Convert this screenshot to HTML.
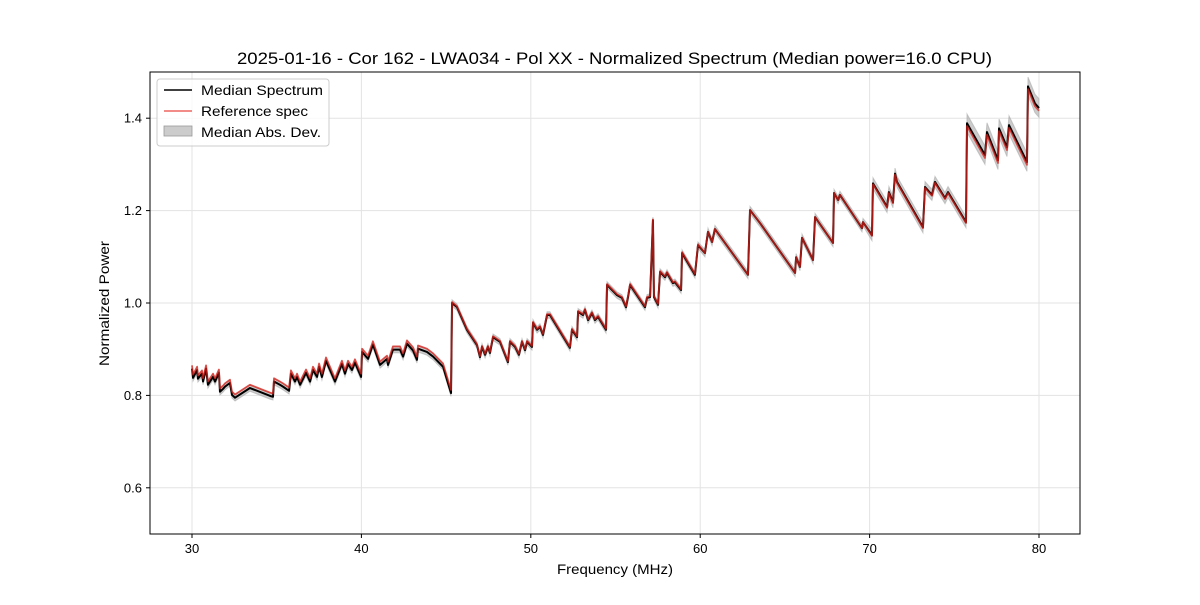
<!DOCTYPE html>
<html><head><meta charset="utf-8"><style>
body{margin:0;background:#fff;}
svg{font-family:"Liberation Sans","DejaVu Sans",sans-serif;}
</style></head><body>
<svg id="chart" width="1200" height="600" viewBox="0 0 1200 600">
<rect x="0" y="0" width="1200" height="600" fill="#fff"/>
<text x="237" y="64" font-size="17" textLength="755" lengthAdjust="spacingAndGlyphs">2025-01-16 - Cor 162 - LWA034 - Pol XX - Normalized Spectrum (Median power=16.0 CPU)</text>
<g id="grid"></g>
<g id="band"></g>
<g id="lines"></g>
<rect x="150" y="72" width="930" height="462" fill="none" stroke="#000" stroke-width="1"/>
<g id="ticks"></g>
<text x="557" y="574" font-size="14" textLength="116" lengthAdjust="spacingAndGlyphs">Frequency (MHz)</text>
<text x="0" y="0" font-size="14" textLength="125" lengthAdjust="spacingAndGlyphs" transform="translate(109 366) rotate(-90)">Normalized Power</text>
<g>
<rect x="157" y="79" width="172" height="67" rx="3" fill="#fff" fill-opacity="0.8" stroke="#ccc"/>
<line x1="164" y1="90" x2="192" y2="90" stroke="#000" stroke-width="1.5"/>
<text x="201" y="95" font-size="14" textLength="122" lengthAdjust="spacingAndGlyphs">Median Spectrum</text>
<line x1="164" y1="111" x2="192" y2="111" stroke="#e8403a" stroke-opacity="0.8" stroke-width="1.5"/>
<text x="201" y="116" font-size="14" textLength="107" lengthAdjust="spacingAndGlyphs">Reference spec</text>
<rect x="164" y="126" width="28" height="10" fill="#bbb" fill-opacity="0.75" stroke="#999" stroke-width="0.8"/>
<text x="201" y="137" font-size="14" textLength="120" lengthAdjust="spacingAndGlyphs">Median Abs. Dev.</text>
</g>
</svg>
<script>
const freqs=[30.00,30.06,30.30,30.35,30.59,30.65,30.83,30.94,31.24,31.36,31.59,31.65,31.83,31.95,32.24,32.36,32.54,33.42,34.60,34.78,34.84,35.19,35.37,35.73,35.84,36.08,36.20,36.38,36.73,36.97,37.14,37.38,37.50,37.67,37.91,38.44,38.85,39.03,39.21,39.44,39.62,39.98,40.04,40.39,40.68,41.10,41.51,41.57,41.86,42.28,42.46,42.69,43.05,43.28,43.34,43.87,44.23,44.82,45.29,45.35,45.64,46.23,46.82,47.00,47.12,47.30,47.47,47.59,47.77,48.18,48.65,48.77,49.07,49.30,49.48,49.66,49.78,50.07,50.13,50.37,50.54,50.72,50.96,51.13,52.31,52.43,52.73,52.79,53.08,53.20,53.38,53.61,53.79,53.97,54.44,54.50,55.09,55.38,55.62,55.74,55.86,56.74,56.86,57.04,57.21,57.27,57.51,57.63,57.92,58.04,58.39,58.51,58.87,58.93,59.69,59.87,60.28,60.46,60.70,60.87,62.82,62.94,63.53,65.60,65.66,65.89,66.01,66.66,66.78,67.84,67.90,68.14,68.25,69.55,69.61,70.14,70.20,71.03,71.14,71.38,71.50,71.62,73.15,73.27,73.68,73.86,74.45,74.63,75.69,75.75,76.81,76.93,77.58,77.64,78.11,78.23,79.29,79.35,79.76,80.00];
const medianPower=[0.858,0.838,0.855,0.836,0.847,0.830,0.858,0.823,0.840,0.830,0.849,0.808,0.814,0.819,0.827,0.801,0.795,0.816,0.799,0.797,0.830,0.823,0.819,0.810,0.847,0.830,0.840,0.823,0.849,0.830,0.855,0.840,0.862,0.840,0.875,0.830,0.868,0.847,0.868,0.855,0.871,0.840,0.894,0.879,0.910,0.866,0.879,0.866,0.899,0.899,0.884,0.912,0.897,0.877,0.901,0.894,0.884,0.862,0.805,1.000,0.991,0.942,0.909,0.883,0.905,0.888,0.905,0.892,0.926,0.916,0.872,0.916,0.905,0.888,0.916,0.898,0.916,0.905,0.957,0.942,0.948,0.931,0.974,0.974,0.903,0.942,0.926,0.981,0.974,0.985,0.963,0.978,0.963,0.970,0.942,1.039,1.017,1.011,0.991,1.013,1.039,0.991,1.011,1.013,1.179,1.013,0.996,1.067,1.056,1.065,1.043,1.045,1.028,1.108,1.061,1.125,1.108,1.154,1.132,1.160,1.061,1.201,1.173,1.065,1.099,1.078,1.141,1.093,1.186,1.130,1.238,1.223,1.234,1.162,1.175,1.147,1.259,1.208,1.240,1.218,1.280,1.262,1.164,1.251,1.234,1.262,1.227,1.240,1.175,1.389,1.320,1.370,1.309,1.378,1.337,1.385,1.305,1.469,1.432,1.422];
const segEdges=[30,45.3,60,70,75.7,80.1];
const madBySeg=[0.007,0.007,0.008,0.012,0.02];
const refDeltaBySeg=[0.007,0.002,0,-0.002,-0.006];
const xTicks=[30,40,50,60,70,80];
const yTicks=[0.6,0.8,1.0,1.2,1.4];
const yTickLabels=["0.6","0.8","1.0","1.2","1.4"];

const X0=150,X1=1080,Y0=72,Y1=534,XMIN=27.52,XMAX=82.42,YMIN=0.5,YMAX=1.5;
const xs=f=>X0+(f-XMIN)/(XMAX-XMIN)*(X1-X0);
const ys=v=>Y1-(v-YMIN)/(YMAX-YMIN)*(Y1-Y0);
const NS="http://www.w3.org/2000/svg";
function mk(tag,attrs,parent,text){const e=document.createElementNS(NS,tag);for(const k in attrs)e.setAttribute(k,attrs[k]);if(text!==undefined)e.textContent=text;parent.appendChild(e);return e;}
function seg(f){for(let i=0;i<segEdges.length-1;i++){if(f<segEdges[i+1])return i;}return segEdges.length-2;}
const grid=document.getElementById('grid'),ticks=document.getElementById('ticks');
xTicks.forEach(t=>{const x=xs(t);
 const g=mk('line',{x1:x,y1:Y0,x2:x,y2:Y1,stroke:'#e3e3e3','stroke-width':1},grid);
 
 
 const tk=mk('line',{x1:x,y1:Y1,x2:x,y2:Y1+4,stroke:'#000'},ticks);
 
 
 const lb=mk('text',{x:x,y:Y1+19,'font-size':13,'text-anchor':'middle'},ticks,String(t));
 
 
});
yTicks.forEach((t,i)=>{const y=ys(t);
 const g=mk('line',{x1:X0,y1:y,x2:X1,y2:y,stroke:'#e3e3e3','stroke-width':1},grid);
 
 
 const tk=mk('line',{x1:X0-4,y1:y,x2:X0,y2:y,stroke:'#000'},ticks);
 
 
 const lb=mk('text',{x:X0-8,y:y+4.5,'font-size':13,'text-anchor':'end'},ticks,yTickLabels[i]);
 
 
});
let up=[],dn=[];
freqs.forEach((f,i)=>{const m=madBySeg[seg(f)];up.push(xs(f)+','+ys(medianPower[i]+m));dn.unshift(xs(f)+','+ys(medianPower[i]-m));});
const band=mk('polygon',{points:up.concat(dn).join(' '),fill:'#aaa','fill-opacity':0.6,stroke:'#aaa','stroke-opacity':0.6,'stroke-width':1},document.getElementById('band'));


const lines=document.getElementById('lines');
const med=mk('polyline',{points:freqs.map((f,i)=>xs(f)+','+ys(medianPower[i])).join(' '),fill:'none',stroke:'#000','stroke-width':2,'stroke-linejoin':'round'},lines);


const ref=mk('polyline',{points:freqs.map((f,i)=>xs(f)+','+ys(medianPower[i]+refDeltaBySeg[seg(f)])).join(' '),fill:'none',stroke:'#d8201a','stroke-opacity':0.75,'stroke-width':1.8,'stroke-linejoin':'round'},lines);


</script>
</body></html>
